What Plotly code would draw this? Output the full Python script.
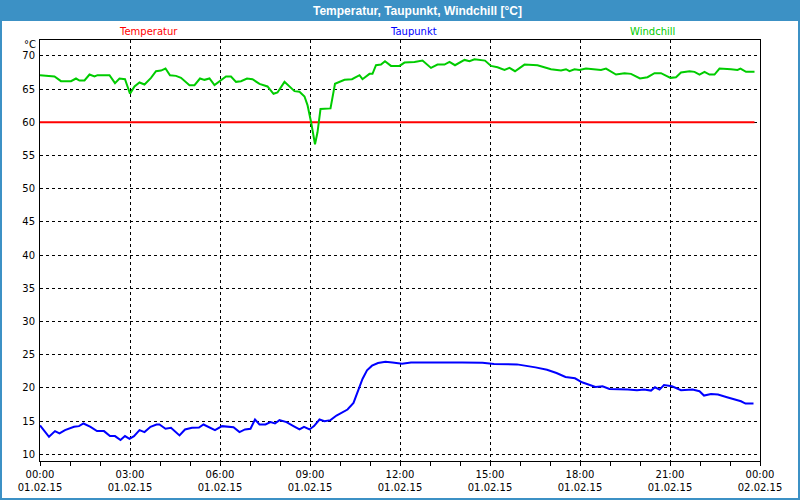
import pandas as pd
import plotly.graph_objects as go

DAY = "2015-02-01 "

temp_times = ["00:00", "23:49"]
temp_values = [60.0, 60.0]

wind_times = ["00:00", "00:29", "00:42", "01:02", "01:12", "01:19", "01:29", "01:39", "01:49", "01:55",
              "02:19", "02:30", "02:39", "02:50", "03:00", "03:09", "03:19", "03:29", "03:42", "03:52",
              "04:02", "04:11", "04:20", "04:32", "04:42", "04:59", "05:09", "05:20", "05:29", "05:39",
              "05:49", "06:02", "06:12", "06:22", "06:32", "06:42", "06:54", "07:05", "07:19", "07:35",
              "07:47", "07:55", "08:09", "08:29", "08:39", "08:49", "08:55", "09:02", "09:06", "09:10",
              "09:15", "09:21", "09:41", "09:50", "10:09", "10:24", "10:39", "10:45", "10:59", "11:05",
              "11:12", "11:22", "11:30", "11:42", "11:59",
              "12:09", "12:29", "12:45", "13:02", "13:15", "13:29", "13:39", "13:50", "14:09", "14:19",
              "14:29", "14:50", "15:02", "15:15", "15:29", "15:39", "15:50", "16:09", "16:35", "17:02",
              "17:22", "17:32", "17:39", "17:49", "17:59", "18:12", "18:42", "18:52", "19:12", "19:29",
              "19:42", "20:00", "20:15", "20:29", "20:42", "21:01", "21:12", "21:22", "21:39", "21:49",
              "21:59", "22:09", "22:19", "22:29", "22:39", "23:02", "23:15", "23:21", "23:32", "23:49"]
wind_values = [67.1, 66.9, 66.2, 66.2, 66.6, 66.3, 66.3, 67.2, 66.9, 67.1,
               67.1, 65.9, 66.6, 66.5, 64.3, 65.4, 66.0, 65.7, 66.7, 67.7,
               67.8, 68.1, 67.1, 67.0, 66.7, 65.6, 65.6, 66.6, 66.4, 66.6,
               65.6, 66.4, 66.9, 66.9, 66.1, 66.2, 66.6, 66.5, 65.8, 65.4,
               64.3, 64.5, 66.1, 64.7, 64.6, 63.9, 62.6, 60.1, 58.5, 56.7,
               58.5, 62.0, 62.1, 65.8, 66.4, 66.5, 67.1, 66.5, 67.3, 67.3,
               68.6, 68.7, 69.2, 68.5, 68.5,
               69.0, 69.1, 69.3, 68.2, 68.7, 68.7, 69.1, 68.6, 69.4, 69.2,
               69.5, 69.3, 68.5, 68.3, 67.9, 68.2, 67.7, 68.7, 68.6, 68.0,
               67.8, 68.0, 67.7, 68.0, 67.9, 68.1, 67.9, 68.1, 67.2, 67.4,
               67.3, 66.6, 66.8, 67.4, 67.4, 66.7, 66.8, 67.5, 67.7, 67.6,
               67.2, 67.6, 67.2, 67.2, 68.1, 68.0, 67.9, 68.1, 67.6, 67.6]

dew_times = ["00:00", "00:18", "00:30", "00:39", "00:50", "01:08", "01:18", "01:27", "01:41", "01:54",
             "02:08", "02:20", "02:30", "02:41", "02:50", "02:59", "03:08", "03:19", "03:29", "03:41",
             "03:53", "03:59", "04:11", "04:22", "04:39", "04:50", "05:04", "05:18", "05:27", "05:36",
             "05:50", "06:04", "06:13", "06:27", "06:39", "06:50", "07:01", "07:10", "07:19", "07:31",
             "07:41", "07:50", "07:59", "08:13", "08:27", "08:39", "08:48", "08:59", "09:08", "09:19",
             "09:29", "09:41", "09:53", "10:04", "10:15", "10:27", "10:36", "10:45", "10:54", "11:04",
             "11:16", "11:31", "11:45", "12:04", "12:22", "12:59", "13:45", "14:04", "14:45", "15:08",
             "15:54", "16:13", "16:31", "16:54", "17:13", "17:31", "17:50", "18:04", "18:18", "18:31",
             "18:45", "18:59", "19:36", "19:54", "20:08", "20:22", "20:30", "20:39", "20:48", "21:04",
             "21:22", "21:45", "21:59", "22:08", "22:22", "22:36", "22:54", "23:08", "23:22", "23:31",
             "23:47"]
dew_values = [14.35, 12.65, 13.5, 13.15, 13.65, 14.15, 14.25, 14.65, 14.15, 13.5,
              13.5, 12.75, 12.75, 12.15, 12.75, 12.35, 12.75, 13.65, 13.35, 14.15,
              14.5, 14.5, 13.85, 14.0, 12.85, 13.75, 14.0, 14.05, 14.5, 14.15,
              13.65, 14.25, 14.15, 14.1, 13.35, 13.75, 13.85, 15.25, 14.5, 14.5,
              14.85, 14.65, 15.15, 14.85, 14.25, 13.75, 14.15, 13.75, 14.25, 15.25,
              15.0, 15.15, 15.85, 16.35, 16.75, 17.75, 19.5, 21.35, 22.65, 23.35,
              23.75, 23.95, 23.85, 23.65, 23.85, 23.85, 23.95, 23.85, 23.8, 23.6,
              23.55, 23.35, 23.1, 22.75, 22.25, 21.65, 21.45, 20.85, 20.5, 20.15,
              20.25, 19.85, 19.75, 19.65, 19.75, 19.6, 20.1, 19.75, 20.45, 20.25,
              19.65, 19.75, 19.5, 18.85, 19.1, 19.0, 18.6, 18.35, 18.0, 17.65,
              17.65]

tick_times = ["2015-02-01 00:00", "2015-02-01 03:00", "2015-02-01 06:00", "2015-02-01 09:00",
              "2015-02-01 12:00", "2015-02-01 15:00", "2015-02-01 18:00", "2015-02-01 21:00",
              "2015-02-02 00:00"]
tick_labels = ["00:00<br>01.02.15", "03:00<br>01.02.15", "06:00<br>01.02.15", "09:00<br>01.02.15",
               "12:00<br>01.02.15", "15:00<br>01.02.15", "18:00<br>01.02.15", "21:00<br>01.02.15",
               "00:00<br>02.02.15"]
y_ticks = [10, 15, 20, 25, 30, 35, 40, 45, 50, 55, 60, 65, 70]


def to_dt(ts):
    return pd.to_datetime([DAY + t for t in ts])


FONT = "DejaVu Sans"
BLUE = "#3c91c5"

fig = go.Figure()
fig.add_trace(go.Scatter(x=to_dt(temp_times), y=temp_values, mode="lines",
                         line=dict(color="#ff0000", width=2), name="Temperatur"))
fig.add_trace(go.Scatter(x=to_dt(dew_times), y=dew_values, mode="lines",
                         line=dict(color="#0000ff", width=2), name="Taupunkt"))
fig.add_trace(go.Scatter(x=to_dt(wind_times), y=wind_values, mode="lines",
                         line=dict(color="#00cc00", width=2), name="Windchill"))


# pixel -> paper helpers (plot area 40..760 x 40..461)
def px(x):
    return (x - 40) / 720.0


def py(y):
    return (461 - y) / 421.0


shapes = [
    dict(type="rect", xref="paper", yref="paper", x0=px(0), x1=px(800), y0=py(21), y1=py(0),
         fillcolor=BLUE, line=dict(width=0), layer="below"),
    dict(type="rect", xref="paper", yref="paper", x0=px(0), x1=px(2), y0=py(500), y1=py(0),
         fillcolor=BLUE, line=dict(width=0), layer="below"),
    dict(type="rect", xref="paper", yref="paper", x0=px(798), x1=px(800), y0=py(500), y1=py(0),
         fillcolor=BLUE, line=dict(width=0), layer="below"),
    dict(type="rect", xref="paper", yref="paper", x0=px(0), x1=px(800), y0=py(500), y1=py(498),
         fillcolor=BLUE, line=dict(width=0), layer="below"),
]

annotations = [
    dict(text="<b>Temperatur, Taupunkt, Windchill [°C]</b>", xref="paper", yref="paper",
         x=px(417), y=py(10.5), showarrow=False, xanchor="center", yanchor="middle",
         font=dict(family="Liberation Sans", size=12, color="white")),
    dict(text="Temperatur", xref="paper", yref="paper", x=px(148), y=py(32), showarrow=False,
         xanchor="center", yanchor="middle", font=dict(family=FONT, size=10, color="#ff0000")),
    dict(text="Taupunkt", xref="paper", yref="paper", x=px(413), y=py(32), showarrow=False,
         xanchor="center", yanchor="middle", font=dict(family=FONT, size=10, color="#0000ff")),
    dict(text="Windchill", xref="paper", yref="paper", x=px(652), y=py(32), showarrow=False,
         xanchor="center", yanchor="middle", font=dict(family=FONT, size=10, color="#00cc00")),
    dict(text="°C", xref="paper", yref="paper", x=px(30), y=py(44.5), showarrow=False,
         xanchor="center", yanchor="middle", font=dict(family=FONT, size=10, color="black")),
]

fig.update_layout(
    width=800, height=500,
    margin=dict(l=40, r=40, t=40, b=39, autoexpand=False),
    paper_bgcolor="white", plot_bgcolor="white",
    showlegend=False,
    font=dict(family=FONT, size=10, color="black"),
    shapes=shapes, annotations=annotations,
    xaxis=dict(type="date", range=["2015-02-01 00:00", "2015-02-02 00:00"],
               tickmode="array", tickvals=tick_times, ticktext=tick_labels,
               showgrid=True, gridcolor="black", griddash="3px,3px", gridwidth=1,
               ticks="outside", ticklen=4, tickcolor="black",
               minor=dict(dtick=3600000, ticks="outside", ticklen=4, tickcolor="black", showgrid=False),
               showline=True, linecolor="black", linewidth=1, mirror=True,
               zeroline=False, fixedrange=True, tickangle=0, automargin=False,
               tickfont=dict(family=FONT, size=10, color="black")),
    yaxis=dict(range=[9.0, 72.4], tickmode="array", tickvals=y_ticks,
               showgrid=True, gridcolor="black", griddash="3px,3px", gridwidth=1,
               ticks="", showline=True, linecolor="black", linewidth=1, mirror=True,
               zeroline=False, ticklabelstandoff=2, automargin=False,
               tickfont=dict(family=FONT, size=10, color="black")),
)

fig.write_html("out.html", config={"displayModeBar": False},
               post_script="document.body.style.margin='0';document.body.style.overflow='hidden';")
